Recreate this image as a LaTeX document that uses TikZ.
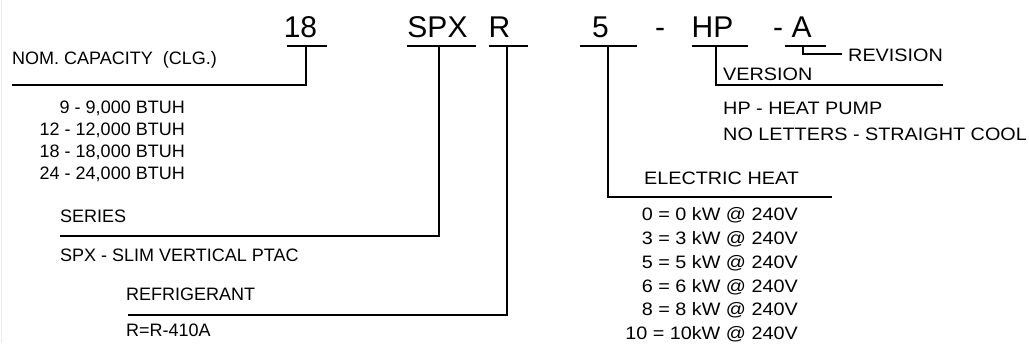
\documentclass[tikz,border=0pt]{standalone}
\usepackage{fontspec}
\setmainfont{Liberation Sans}
\newfontfamily\widesans[FakeStretch=1.1]{Liberation Sans}
\usetikzlibrary{calc,positioning}

\begin{document}
\begin{tikzpicture}[x=1pt, y=-1pt]
    \tikzset{code/.style={font=\fontsize{30}{36}\selectfont, inner sep=0, anchor=base},
      label/.style={font=\fontsize{18}{22}\selectfont, inner sep=0, anchor=west},
      list/.style={font=\fontsize{18}{22}\selectfont, inner sep=0, align=right, anchor=north east},
      wide/.style={font=\widesans\fontsize{18}{23.8}\selectfont},
      leader/.style={line width=2.2pt}}
    \useasboundingbox (0,0) rectangle (1029,343);
    \draw[gray!15, line width=1pt] (1,0) -- (1,343);
    % model number
    \node[code] (n18) at (300.5,37) {18};
    \node[code] (nspx) at (437.5,37) {SPX};
    \node[code] (nr) at (499.5,37) {R};
    \node[code] (n5) at (600.5,37) {5};
    \node[code] (dash1) at (660,37) {-};
    \node[code] (nhp) at (712.5,37) {HP};
    \node[code] (dash2) at (778,37) {-};
    \node[code] (na) at (801.5,37) {A};
    % taps under each part
    \coordinate (t18) at (306,46);
    \coordinate (tspx) at (439,46);
    \coordinate (tr) at (507,46);
    \coordinate (t5) at (608,46);
    \coordinate (thp) at (716,46);
    \coordinate (ta) at (803,46);
    \draw[leader] ($(t18)+(-19,0)$) -- ++(40,0);
    \draw[leader] ($(tspx)+(-32,0)$) -- ++(69,0);
    \draw[leader] ($(tr)+(-18,0)$) -- ++(39,0);
    \draw[leader] ($(t5)+(-28,0)$) -- ++(57,0);
    \draw[leader] ($(thp)+(-24,0)$) -- ++(56,0);
    \draw[leader] ($(ta)+(-18,0)$) -- ++(41,0);
    % ends of the leaders
    \coordinate (capend) at (12,85);
    \coordinate (serend) at (60,236);
    \coordinate (refend) at (128,315);
    \coordinate (elend) at (832,197);
    \coordinate (verend) at (943,85);
    \coordinate (revend) at (842,54);
    \draw[leader] (t18) |- (capend);
    \draw[leader] (tspx) |- (serend);
    \draw[leader] (tr) |- (refend);
    \draw[leader] (t5) |- (elend);
    \draw[leader] (thp) |- (verend);
    \draw[leader] (ta) |- (revend);
    % labels
    \node[label] (cap) at (12,60) {NOM. CAPACITY\ \ (CLG.)};
    \node[list] (caplist) at (185,100.5) {9 - 9,000 BTUH\\12 - 12,000 BTUH\\18 - 18,000 BTUH\\24 - 24,000 BTUH};
    \node[label] (ser) at (60,216) {SERIES};
    \node[label] (serval) at (60,255) {SPX - SLIM VERTICAL PTAC};
    \node[label] (ref) at (126,294) {REFRIGERANT};
    \node[label] (refval) at (126,330) {R=R-410A};
    \node[label, wide, anchor=center] (el) at (721.5,178) {ELECTRIC HEAT};
    \node[list, wide] (ellist) at (798,207.5) {0 = 0 kW @ 240V\\3 = 3 kW @ 240V\\5 = 5 kW @ 240V\\6 = 6 kW @ 240V\\8 = 8 kW @ 240V\\10 = 10kW @ 240V};
    \node[label, wide] (ver) at (723,74) {VERSION};
    \node[label, wide] (verhp) at (723,108) {HP - HEAT PUMP};
    \node[label, wide] (vernl) at (723,134) {NO LETTERS - STRAIGHT COOL};
    \node[label, wide] (rev) at (848,55) {REVISION};
\end{tikzpicture}
\end{document}
